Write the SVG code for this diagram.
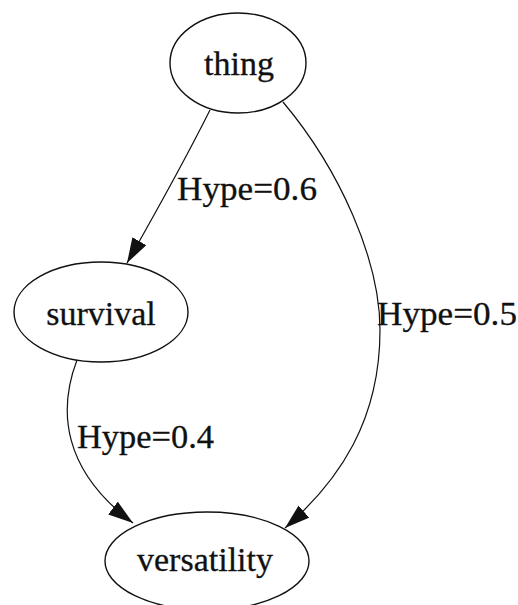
<svg xmlns="http://www.w3.org/2000/svg" width="518" height="605" viewBox="0 0 518 605">
<style>
.node ellipse{fill:none;stroke:#111;stroke-width:1.4}
.lbl{font-family:"Liberation Serif","Times New Roman",serif;font-size:34px;fill:#111;stroke:#111;stroke-width:0.3}
.edge{fill:none;stroke:#111;stroke-width:1.2}
</style>
<defs>
<marker id="ah" markerUnits="userSpaceOnUse" markerWidth="26" markerHeight="18" refX="25" refY="8" orient="auto">
<path d="M0,0 L25,8 L0,16 z" fill="#111"/>
</marker>
</defs>
<rect width="518" height="605" fill="#fff"/>
<g id="connectors">
<path class="edge" d="M210,110 C185,160 160,205 127,263" marker-end="url(#ah)"/>
<path class="edge" d="M283,102 C340,170 380,260 380,330 C380,420 340,480 285,528" marker-end="url(#ah)"/>
<path class="edge" d="M77,360 C58,410 62,470 133,523" marker-end="url(#ah)"/>
<text class="lbl" x="177" y="200" textLength="140" lengthAdjust="spacingAndGlyphs">Hype=0.6</text>
<text class="lbl" x="377" y="325" textLength="140" lengthAdjust="spacingAndGlyphs">Hype=0.5</text>
<text class="lbl" x="77" y="448" textLength="137" lengthAdjust="spacingAndGlyphs">Hype=0.4</text>
</g>
<g id="thing" class="node">
<ellipse cx="238" cy="63" rx="68" ry="50"/>
<text class="lbl" x="239" y="75" text-anchor="middle">thing</text>
</g>
<g id="survival" class="node">
<ellipse cx="101" cy="312" rx="87" ry="50"/>
<text class="lbl" x="101" y="325" text-anchor="middle">survival</text>
</g>
<g id="versatility" class="node">
<ellipse cx="207" cy="561" rx="102" ry="49"/>
<text class="lbl" x="205" y="571" text-anchor="middle">versatility</text>
</g>
</svg>
